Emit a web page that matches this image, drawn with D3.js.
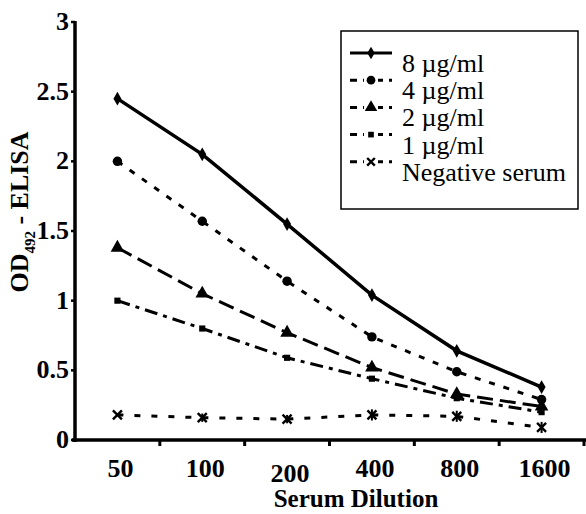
<!DOCTYPE html>
<html><head><meta charset="utf-8">
<script src="https://cdn.jsdelivr.net/npm/d3@7"></script>
<style>body{margin:0;background:#fff}svg{display:block}
text{font-family:"Liberation Serif","Tinos","DejaVu Serif",serif}</style>
</head><body>
<svg id="c" width="586" height="514"></svg>
<script>
const dilutions = ["50","100","200","400","800","1600"];
const yTicks = [0,0.5,1,1.5,2,2.5,3];
const seriesNames = ["8 \u00b5g/ml","4 \u00b5g/ml","2 \u00b5g/ml","1 \u00b5g/ml","Negative serum"];
const s8  = [2.45,2.05,1.55,1.04,0.64,0.38];
const s4  = [2.00,1.57,1.14,0.74,0.49,0.29];
const s2  = [1.38,1.05,0.77,0.52,0.33,0.24];
const s1  = [1.00,0.80,0.59,0.44,0.30,0.20];
const sNeg = [0.18,0.16,0.15,0.18,0.17,0.09];
const negErr = [0,0.03,0.03,0.04,0.04,0.04];

const svg = d3.select("#c");
const x = d3.scaleBand().domain(dilutions).range([75,584]);
const y = d3.scaleLinear().domain([0,3]).range([440,22]);
const cx = d => x(d)+x.bandwidth()/2;

const styles = [
  {data:s8, dash:null, w:3.5, sym:"diamond"},
  {data:s4, dash:"6,9", w:3, sym:"circle"},
  {data:s2, dash:"16,7", w:3, sym:"triangle"},
  {data:s1, dash:"13,6,4,6", w:3, sym:"square"},
  {data:sNeg, dash:"6,11", w:3, sym:"x"}
];

function drawSym(g, type, px, py, scale){
  scale = scale||1;
  if(type==="x"){
    const s=4.5*scale;
    g.append("path").attr("d",`M${px-s},${py-s}L${px+s},${py+s}M${px+s},${py-s}L${px-s},${py+s}`)
      .attr("stroke","#000").attr("stroke-width",2.4).attr("fill","none");
    return;
  }
  const map={diamond:[d3.symbolDiamond,55],circle:[d3.symbolCircle,70],triangle:[d3.symbolTriangle,80],square:[d3.symbolSquare,38]};
  const [t,sz]=map[type];
  g.append("path").attr("d",d3.symbol(t,sz*scale)()).attr("transform",`translate(${px},${py})`).attr("fill","#000");
}

// series lines
const line = d3.line().x((d,i)=>cx(dilutions[i])).y(d=>y(d));
styles.slice().reverse().forEach(s=>{
  svg.append("path").datum(s.data).attr("d",line).attr("fill","none").attr("stroke","#000")
    .attr("stroke-width",s.w).attr("stroke-dasharray",s.dash);
  const g=svg.append("g");
  s.data.forEach((v,i)=>drawSym(g,s.sym,cx(dilutions[i]),y(v)));
});
// negative serum error bars
sNeg.forEach((v,i)=>{
  if(negErr[i]>0){
    svg.append("line").attr("x1",cx(dilutions[i])).attr("x2",cx(dilutions[i]))
      .attr("y1",y(v+negErr[i])).attr("y2",y(v-negErr[i])).attr("stroke","#000").attr("stroke-width",2);
  }
});

// axes
svg.append("line").attr("x1",75).attr("x2",75).attr("y1",y(3)-1).attr("y2",442).attr("stroke","#000").attr("stroke-width",3.5);
svg.append("line").attr("x1",72).attr("x2",586).attr("y1",440).attr("y2",440).attr("stroke","#000").attr("stroke-width",3.5);
yTicks.forEach(t=>{
  svg.append("line").attr("x1",71).attr("x2",75).attr("y1",y(t)).attr("y2",y(t)).attr("stroke","#000").attr("stroke-width",2.5);
  svg.append("text").attr("x",69).attr("y",y(t)+8).attr("text-anchor","end")
    .attr("font-weight","bold").attr("font-size",26).text(t);
});
dilutions.forEach((d,i)=>{
  const bx=x(d)+x.bandwidth();
  svg.append("line").attr("x1",bx).attr("x2",bx).attr("y1",440).attr("y2",446).attr("stroke","#000").attr("stroke-width",3);
  svg.append("text").attr("x",cx(d)+3).attr("y",d==="200"?482:477).attr("text-anchor","middle")
    .attr("font-weight","bold").attr("font-size",26).text(d);
});
svg.append("text").attr("x",356).attr("y",507).attr("text-anchor","middle")
  .attr("font-weight","bold").attr("font-size",25).text("Serum Dilution");
const yt=svg.append("text").attr("transform","translate(28,212) rotate(-90)").attr("text-anchor","middle")
  .attr("font-weight","bold").attr("font-size",26);
yt.append("tspan").text("OD");
yt.append("tspan").attr("font-size",15).attr("dy",7).text("492");
yt.append("tspan").attr("dy",-7).text(" - ELISA");

// legend
svg.append("rect").attr("x",341).attr("y",31).attr("width",237).attr("height",178)
  .attr("fill","#fff").attr("stroke","#000").attr("stroke-width",1.5);
styles.forEach((s,i)=>{
  const by=72+i*27.2, sy=by-19;
  svg.append("line").attr("x1",350).attr("x2",392).attr("y1",sy).attr("y2",sy).attr("stroke","#000")
    .attr("stroke-width",3).attr("stroke-dasharray",s.dash?"7,6":null);
  if(s.dash){
    svg.append("rect").attr("x",364).attr("y",sy-4).attr("width",14).attr("height",8).attr("fill","#fff");
  }
  drawSym(svg,s.sym,371,sy,0.85);
  svg.append("text").attr("x",402).attr("y",by).attr("font-size",26).text(seriesNames[i]);
});
</script>
</body></html>
